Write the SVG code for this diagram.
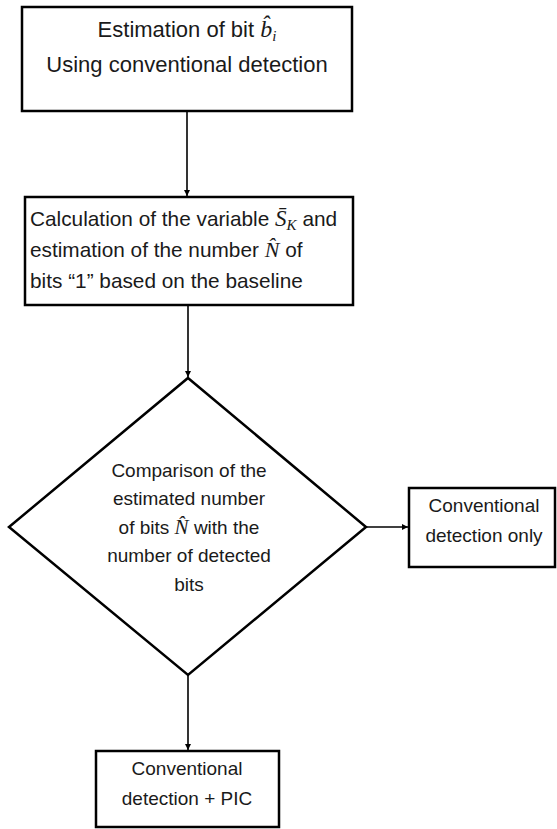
<svg xmlns="http://www.w3.org/2000/svg" width="557" height="829" viewBox="0 0 557 829">
<style>
.box{fill:#fff;stroke:#000;stroke-width:2.5}
.t{font-family:"Liberation Sans",Arial,sans-serif;font-size:19px;fill:#1a1a1a}
.big{font-size:22px}
.mid{font-size:20.8px}
.m{font-family:"Liberation Serif","Times New Roman",serif;font-style:italic}
.c{stroke:#000;stroke-width:1.6;fill:none}
</style>
<defs>
<marker id="ah" viewBox="0 0 10 10" refX="10" refY="5" markerWidth="6" markerHeight="6" markerUnits="userSpaceOnUse" orient="auto">
<path d="M0,0 L10,5 L0,10 z" fill="#000"/>
</marker>
</defs>
<rect width="557" height="829" fill="#fff"/>
<g id="connectors">
<line class="c" x1="187" y1="111" x2="187" y2="196" marker-end="url(#ah)"/>
<line class="c" x1="188" y1="305" x2="188" y2="377" marker-end="url(#ah)"/>
<line class="c" x1="366" y1="527" x2="408" y2="527" marker-end="url(#ah)"/>
<line class="c" x1="188" y1="675" x2="188" y2="750" marker-end="url(#ah)"/>
</g>
<g id="node1">
<rect class="box" x="22" y="7" width="330" height="104"/>
<text class="t big" x="187" y="37" text-anchor="middle">Estimation of bit <tspan class="m" font-size="24">b̂</tspan><tspan class="m" font-size="15" dy="4">i</tspan></text>
<text class="t big" x="187" y="72" text-anchor="middle">Using conventional detection</text>
</g>
<g id="node2">
<rect class="box" x="25" y="197" width="328" height="108"/>
<text class="t mid" x="30" y="226">Calculation of the variable <tspan class="m" font-size="23">S̄</tspan><tspan class="m" font-size="15" dy="4">K</tspan><tspan dy="-4"> and</tspan></text>
<text class="t mid" x="30" y="257">estimation of the number <tspan class="m" font-size="22">N̂</tspan> of</text>
<text class="t mid" x="30" y="288">bits “1” based on the baseline</text>
</g>
<g id="node3">
<polygon class="box" points="188,378 366,527 188,675 9,527"/>
<text class="t" x="189" y="477" text-anchor="middle">Comparison of the</text>
<text class="t" x="189" y="505" text-anchor="middle">estimated number</text>
<text class="t" x="189" y="534" text-anchor="middle">of bits <tspan class="m" font-size="21">N̂</tspan> with the</text>
<text class="t" x="189" y="562" text-anchor="middle">number of detected</text>
<text class="t" x="189" y="591" text-anchor="middle">bits</text>
</g>
<g id="node4">
<rect class="box" x="409" y="488" width="146" height="79"/>
<text class="t" x="484" y="512" text-anchor="middle">Conventional</text>
<text class="t" x="484" y="542" text-anchor="middle">detection only</text>
</g>
<g id="node5">
<rect class="box" x="96" y="751" width="183" height="76"/>
<text class="t" x="187" y="775" text-anchor="middle">Conventional</text>
<text class="t" x="187" y="805" text-anchor="middle">detection + PIC</text>
</g>
</svg>
